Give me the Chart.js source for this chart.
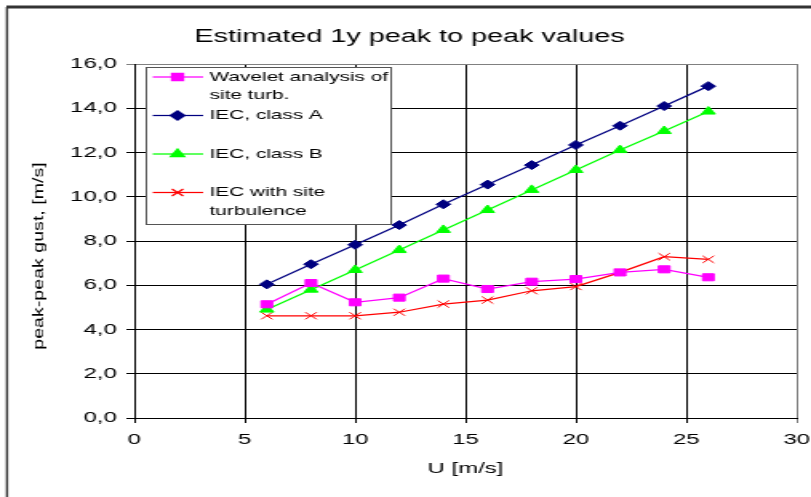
<!DOCTYPE html>
<html>
<head>
<meta charset="utf-8">
<script src="https://cdn.jsdelivr.net/npm/chart.js@4.4.0/dist/chart.umd.min.js"></script>
<style>
  html, body { margin: 0; padding: 0; background: #fff; }
  canvas { display: block; }
</style>
</head>
<body>
<canvas id="chart" style="width: 811px; height: 497px;"></canvas>
<script>
// values
const speeds = [6, 8, 10, 12, 14, 16, 18, 20, 22, 24, 26];
const wavelet = [5.14, 6.1, 5.23, 5.44, 6.3, 5.83, 6.16, 6.28, 6.58, 6.72, 6.36];
const classA = [6.04, 6.95, 7.83, 8.72, 9.66, 10.55, 11.43, 12.34, 13.21, 14.1, 15.0];
const classB = [4.9, 5.8, 6.69, 7.59, 8.5, 9.4, 10.31, 11.21, 12.11, 12.97, 13.85];
const iecSite = [4.62, 4.62, 4.62, 4.78, 5.15, 5.33, 5.75, 5.94, 6.58, 7.29, 7.17];

const seriesLabels = ['Wavelet analysis of site turb.', 'IEC, class A', 'IEC, class B', 'IEC with site turbulence'];
const legendLines = [['Wavelet analysis of', 'site turb.'], ['IEC, class A'], ['IEC, class B'], ['IEC with site', 'turbulence']];
const chartTitle = 'Estimated 1y peak to peak values';
const xAxisTitle = 'U [m/s]';
const yAxisTitle = 'peak-peak gust, [m/s]';

// the original picture is stretched sideways, so draw narrow and let css widen it
const STRETCH = 1.6;
const canvas = document.getElementById('chart');
canvas.width = Math.round(811 / STRETCH);
canvas.height = 497;

const FONT = '"Liberation Sans", Arial, sans-serif';
Chart.defaults.font.family = FONT;
Chart.defaults.color = '#000';

function pts(ys) {
    return speeds.map((u, i) => ({ x: u, y: ys[i] }));
}

const frame = {
    id: 'frame',
    beforeDraw(chart) {
        const c = chart.ctx;
        c.save();
        c.fillStyle = '#fff';
        c.fillRect(0, 0, chart.width, chart.height);
        c.strokeStyle = '#333';
        c.lineWidth = 3;
        c.beginPath(); c.moveTo(4, 7); c.lineTo(chart.width, 7); c.stroke();
        c.lineWidth = 1.4;
        c.beginPath(); c.moveTo(4.4, 7); c.lineTo(4.4, chart.height); c.stroke();
        c.restore();
    }
};

const yTitle = {
    id: 'yTitle',
    afterDraw(chart) {
        const c = chart.ctx;
        c.save();
        c.translate(25, 256);
        c.rotate(-Math.PI / 2);
        c.scale(1.4, 0.62);
        c.font = '14px ' + FONT;
        c.textAlign = 'center';
        c.textBaseline = 'middle';
        c.fillStyle = '#000';
        c.fillText(yAxisTitle, 0, 0);
        c.restore();
    }
};

const boxLegend = {
    id: 'boxLegend',
    afterDraw(chart) {
        const c = chart.ctx;
        const x0 = 91, y0 = 67, x1 = 244, y1 = 224;
        c.save();
        c.fillStyle = '#fff';
        c.fillRect(x0, y0, x1 - x0, y1 - y0);
        c.strokeStyle = '#555';
        c.lineWidth = 1;
        c.strokeRect(x0 + 0.5, y0 + 0.5, x1 - x0, y1 - y0);
        c.font = '13px ' + FONT;
        c.textBaseline = 'middle';
        chart.data.datasets.forEach((ds, i) => {
            const y = 77 + i * 38.5;
            c.strokeStyle = ds.borderColor;
            c.lineWidth = ds.borderWidth;
            c.beginPath(); c.moveTo(95.5, y); c.lineTo(127, y); c.stroke();
            c.fillStyle = ds.pointBackgroundColor;
            Chart.helpers.drawPoint(c, {
                pointStyle: ds.pointStyle, radius: ds.pointRadius, borderWidth: 1, rotation: 0
            }, 111, y);
            c.fillStyle = '#000';
            legendLines[i].forEach((t, j) => c.fillText(t, 131, y + j * 18.5));
        });
        c.restore();
    }
};

function line(label, data, color, style, radius) {
    return {
        label: label,
        data: pts(data),
        borderColor: color,
        backgroundColor: color,
        pointBackgroundColor: color,
        pointBorderColor: color,
        borderWidth: 1.25,
        pointBorderWidth: 1,
        pointStyle: style,
        pointRadius: radius,
        tension: 0
    };
}

new Chart(canvas.getContext('2d'), {
    type: 'line',
    data: {
        datasets: [
            line(seriesLabels[0], wavelet, '#ff00ff', 'rect', 5),
            line(seriesLabels[1], classA, '#000080', 'rectRot', 4.5),
            line(seriesLabels[2], classB, '#00ff00', 'triangle', 5),
            line(seriesLabels[3], iecSite, '#ff0000', 'crossRot', 5)
        ]
    },
    options: {
        responsive: false,
        animation: false,
        devicePixelRatio: 1,
        layout: { padding: { left: 14, right: 9, top: 0, bottom: 0 } },
        plugins: {
            legend: { display: false },
            tooltip: { enabled: false },
            title: {
                display: true,
                text: chartTitle,
                color: '#000',
                font: { size: 18, weight: 'normal', lineHeight: 1.2 },
                padding: { top: 26, bottom: 16.4 }
            }
        },
        scales: {
            x: {
                type: 'linear',
                min: 0,
                max: 30,
                afterFit: s => { s.height = 79; },
                // tall line height pushes the labels down without widening the right padding
                ticks: { stepSize: 5, padding: 0, font: { size: 15, lineHeight: 2.25 }, color: '#000', maxRotation: 0 },
                grid: {
                    color: ctx => (ctx.tick && ctx.tick.value === 30 ? '#808080' : '#000'),
                    lineWidth: 1,
                    tickLength: 5
                },
                border: { color: '#000', width: 1 },
                title: {
                    display: true,
                    text: xAxisTitle,
                    color: '#000',
                    font: { size: 15, lineHeight: 1.2 },
                    padding: { top: 4, bottom: 19 }
                }
            },
            y: {
                min: 0,
                max: 16,
                afterFit: s => { s.width = 70; },
                ticks: {
                    stepSize: 2,
                    padding: 6,
                    font: { size: 15 },
                    color: '#000',
                    callback: v => v.toFixed(1).replace('.', ',')
                },
                grid: {
                    color: ctx => (ctx.tick && ctx.tick.value === 16 ? '#808080' : '#000'),
                    lineWidth: 1,
                    tickLength: 5
                },
                border: { color: '#000', width: 1 }
            }
        }
    },
    plugins: [frame, yTitle, boxLegend]
});
</script>
</body>
</html>
